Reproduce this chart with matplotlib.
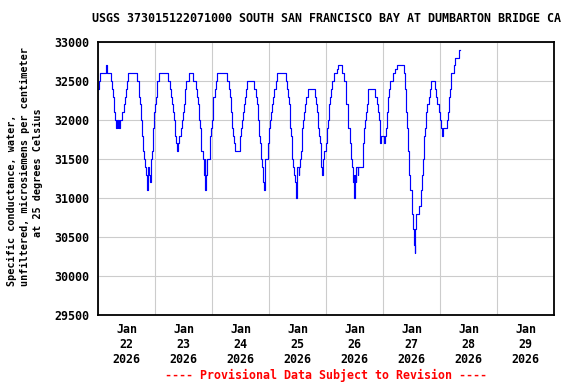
import numpy as np
import pandas as pd
import matplotlib
matplotlib.use("Agg")
import matplotlib.pyplot as plt
import matplotlib.dates as mdates

# hours after 2026-01-22 00:00 where the reading changes, and the new reading
hours = [
    0.00, 0.28, 0.84, 3.51, 3.93, 5.34, 5.90, 6.18, 6.60, 6.88, 7.16, 7.72,
    8.00, 8.28, 8.56, 8.85, 9.27, 10.11, 10.95, 11.23, 11.65, 12.08, 12.64,
    16.57, 17.13, 17.41, 17.83, 17.97, 18.39, 18.81, 19.09, 19.38, 19.66,
    20.08, 20.50, 20.78, 20.92, 21.20, 21.62, 22.04, 22.18, 22.46, 22.89,
    23.31, 23.59, 23.87, 24.43, 24.71, 25.83, 29.63, 30.33, 30.89, 31.17,
    31.45, 31.87, 32.29, 32.57, 32.99, 33.42, 33.70, 34.26, 34.96, 35.38,
    35.66, 36.08, 36.50, 36.79, 37.21, 38.47,
    40.14, 41.12, 41.82, 42.10, 42.52, 42.94, 43.22, 43.50, 44.35, 44.63,
    44.91, 45.19, 45.47, 45.75, 47.01, 47.29, 47.57, 47.85, 48.28, 48.56,
    49.12, 49.68, 50.24, 54.17, 55.01, 55.57, 55.85, 56.13, 56.56, 56.84,
    57.12, 57.68, 59.64, 59.92, 60.35, 60.63, 61.19, 61.61, 62.03, 62.45,
    62.87, 65.68, 66.66, 66.94, 67.36, 67.64, 67.92, 68.21, 68.63, 68.91,
    69.33, 69.61, 69.89, 70.17, 70.45, 71.43, 71.71, 72.13, 72.42, 72.70,
    73.12, 73.54, 74.10, 74.80, 75.50,
    79.02, 79.72, 80.00, 80.42, 80.70, 80.98, 81.26, 81.54, 81.82, 82.10,
    82.67, 82.95, 83.37, 83.65, 84.49, 84.77, 85.05, 85.47, 85.75, 86.03,
    86.45, 86.74, 87.16, 87.58, 88.42, 91.23, 91.79, 92.07, 92.49, 92.77,
    93.05, 93.33, 93.75, 94.03, 94.31, 94.59, 94.87, 95.30, 95.86, 96.42,
    96.98, 97.40, 97.68, 98.10, 98.66, 99.23, 100.49, 101.19, 102.73,
    103.72, 104.42, 105.40, 106.10, 106.52, 106.95, 107.37, 107.65, 107.93,
    108.21, 108.49, 108.77, 109.33, 109.61, 111.44, 111.72, 112.14, 112.56,
    112.98, 113.40, 113.82,
    116.49, 117.33, 117.76, 118.18, 118.60, 118.74, 119.02, 120.56, 120.84,
    121.26, 121.69, 122.11, 122.67, 123.09, 124.07, 125.19, 125.90, 128.70,
    129.12, 129.41, 129.83, 130.25, 130.67, 130.95, 131.51, 132.07, 132.49,
    133.05, 133.33, 133.61, 134.04, 135.02, 135.86, 136.28, 136.70, 137.13,
    137.55, 138.11, 138.53, 139.23, 139.79, 140.35, 142.04, 142.46, 142.88,
    143.44, 143.86, 144.28, 144.84, 145.12, 146.95, 147.37, 147.65, 148.07,
    148.49, 149.90, 150.46, 152.14, 152.56,
]
values = [
    32400, 32500, 32600, 32700, 32600, 32500, 32400, 32300, 32200, 32100, 32000, 31900,
    32000, 31900, 32000, 31900, 32000, 32100, 32200, 32300, 32400, 32500, 32600,
    32500, 32400, 32300, 32200, 32000, 31800, 31700, 31600, 31500, 31400,
    31300, 31200, 31100, 31300, 31400, 31300, 31200, 31400, 31500, 31600,
    31900, 32100, 32200, 32300, 32500, 32600, 32500, 32400, 32300, 32200,
    32100, 32000, 31900, 31800, 31700, 31600, 31700, 31800, 31900, 32000,
    32100, 32200, 32300, 32400, 32500, 32600,
    32500, 32400, 32300, 32200, 32000, 31900, 31700, 31600, 31500, 31300,
    31500, 31100, 31300, 31500, 31600, 31800, 31900, 32000, 32200, 32300,
    32400, 32500, 32600, 32500, 32400, 32300, 32200, 32100, 31900, 31800,
    31700, 31600, 31700, 31800, 31900, 32000, 32100, 32200, 32300, 32400,
    32500, 32400, 32300, 32200, 32000, 31900, 31800, 31700, 31500, 31400,
    31300, 31200, 31100, 31400, 31500, 31600, 31700, 31900, 32000, 32100,
    32200, 32300, 32400, 32500, 32600,
    32500, 32400, 32300, 32200, 32000, 31900, 31800, 31600, 31500, 31400,
    31300, 31200, 31000, 31400, 31300, 31400, 31500, 31600, 31700, 31900,
    32000, 32100, 32200, 32300, 32400, 32300, 32200, 32100, 32000, 31900,
    31800, 31700, 31600, 31400, 31300, 31400, 31500, 31600, 31700, 31900,
    32000, 32200, 32300, 32400, 32500, 32600, 32650, 32700, 32600,
    32500, 32200, 31900, 31700, 31500, 31400, 31200, 31300, 31000,
    31300, 31200, 31400, 31300, 31400, 31600, 31700, 31900, 32000,
    32100, 32200, 32400,
    32300, 32200, 32100, 32000, 31800, 31700, 31800, 31700, 31800,
    31900, 32100, 32300, 32400, 32500, 32600, 32650, 32700, 32600,
    32500, 32400, 32100, 31900, 31600, 31300, 31100, 30800, 30600,
    30400, 30300, 30600, 30800, 30900, 31100, 31300, 31500, 31800,
    31900, 32100, 32200, 32300, 32400, 32500, 32400, 32300, 32200,
    32100, 32000, 31900, 31800, 31900, 32000, 32100, 32300, 32400,
    32600, 32700, 32800, 32900, 32900,
]

title = "USGS 373015122071000 SOUTH SAN FRANCISCO BAY AT DUMBARTON BRIDGE CA"
ylabel_lines = ["Specific conductance, water,",
                "unfiltered, microsiemens per centimeter",
                "at 25 degrees Celsius"]
footer = "---- Provisional Data Subject to Revision ----"

start = pd.Timestamp("2026-01-22")
times = start + pd.to_timedelta(hours, unit="h")

plt.rcParams["font.family"] = "DejaVu Sans Mono"
plt.rcParams["font.weight"] = "bold"

fig = plt.figure(figsize=(5.76, 3.84), dpi=100)
ax = fig.add_axes([98 / 576, 1 - 315 / 384, 456 / 576, 273 / 384])

ax.plot(times, values, drawstyle="steps-post", color="#0000ff", linewidth=0.85)

ax.set_xlim(start, start + pd.Timedelta(days=8))
ax.set_ylim(29500, 33000)
ax.set_yticks(np.arange(29500, 33001, 500))

ax.xaxis.set_major_locator(mdates.DayLocator())
ax.xaxis.set_major_formatter(plt.NullFormatter())
ax.xaxis.set_minor_locator(mdates.HourLocator(byhour=[12]))
ax.xaxis.set_minor_formatter(mdates.DateFormatter("%b\n%d\n%Y"))

ax.grid(True, which="major", color="#cccccc", linewidth=0.8)
ax.set_axisbelow(True)
ax.tick_params(axis="x", which="both", length=0, labelsize=8.4, pad=6)
ax.tick_params(axis="y", length=0, labelsize=8.4, pad=6)
for s in ax.spines.values():
    s.set_linewidth(1.3)

fig.text(326 / 576, 1 - 19 / 384, title, ha="center", va="center", fontsize=8.4)
fig.text(12 / 576, 1 - 286 / 384, ylabel_lines[0], rotation=90,
         ha="center", va="bottom", fontsize=7.3)
fig.text(25 / 576, 1 - 286 / 384, ylabel_lines[1], rotation=90,
         ha="center", va="bottom", fontsize=7.3)
fig.text(38 / 576, 1 - 173 / 384, ylabel_lines[2], rotation=90,
         ha="center", va="center", fontsize=7.3)
fig.text(326 / 576, 1 - 375 / 384, footer, ha="center", va="center",
         fontsize=8.4, color="red")

fig.savefig("out.png", dpi=100)
